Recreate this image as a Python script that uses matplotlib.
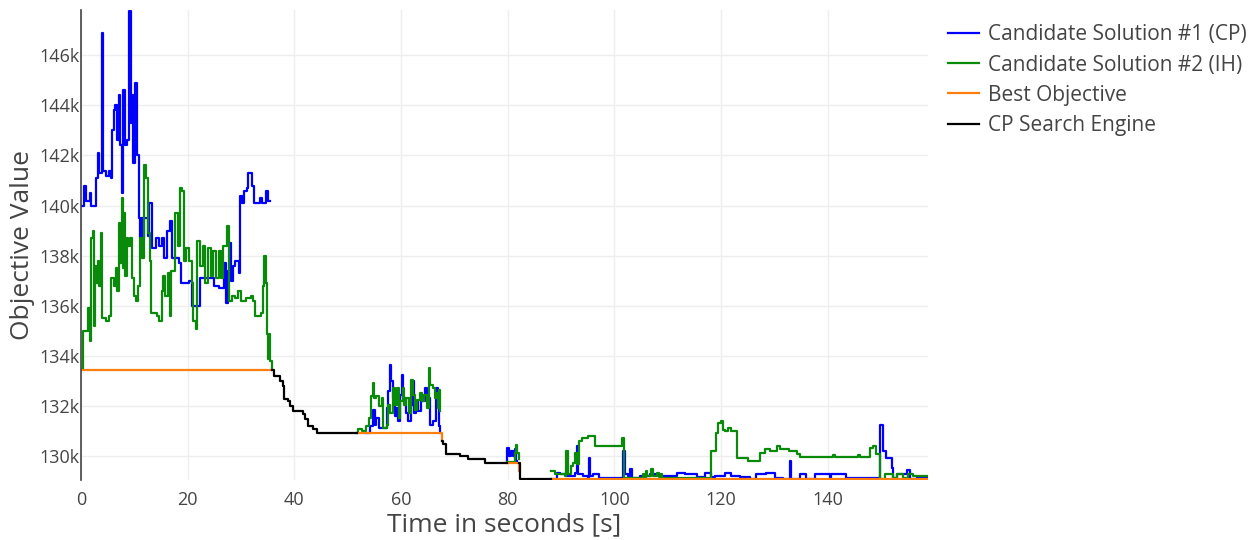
import numpy as np
import matplotlib
matplotlib.use("Agg")
import matplotlib.pyplot as plt
from matplotlib.ticker import FuncFormatter

plt.rcParams['font.family'] = ['Open Sans', 'DejaVu Sans']

# objective values in thousands, time in seconds; each list is (t, value) step points
cp_seg1 = [(0.0, 140.0), (0.5, 140.8), (0.9, 140.2), (1.6, 140.5), (1.9, 140.0), (2.9, 141.1),
           (3.1, 142.1), (3.3, 141.3), (3.9, 146.9), (4.1, 141.4), (4.6, 141.2), (5.2, 141.4),
           (5.6, 141.1), (5.9, 143.0), (6.1, 143.8), (6.4, 144.0), (6.8, 142.6), (7.1, 144.4),
           (7.4, 142.4), (7.7, 140.5), (7.9, 144.6), (8.2, 142.4), (8.6, 142.6), (9.0, 147.75),
           (9.3, 143.3), (9.6, 144.4), (9.8, 141.7), (10.2, 144.9), (10.5, 142.0), (10.8, 139.5),
           (11.0, 138.7), (11.3, 139.5), (11.6, 138.7), (11.9, 139.5), (12.5, 138.8), (12.8, 140.1),
           (13.4, 138.3), (14.0, 138.7), (14.6, 138.4), (15.2, 138.7), (15.5, 137.9), (16.1, 139.0),
           (16.7, 139.4), (17.0, 137.9), (18.3, 137.7), (18.7, 136.9), (20.2, 137.0), (20.8, 136.0),
           (22.4, 137.1), (24.9, 136.8), (25.8, 136.7), (26.8, 137.7), (27.2, 136.1), (27.5, 137.4),
           (27.9, 138.5), (28.1, 137.0), (28.5, 137.6), (28.9, 137.8), (29.6, 137.3), (29.8, 140.4),
           (30.2, 140.1), (30.6, 140.6), (31.1, 140.7), (31.4, 141.3), (32.0, 140.8), (32.5, 140.1),
           (33.5, 140.3), (33.9, 140.1), (34.7, 140.6), (35.0, 140.2), (35.4, 140.2)]
cp_seg2 = [(53.2, 130.95), (54.2, 131.2), (54.7, 131.87), (55.1, 131.27), (55.4, 131.53),
           (55.9, 131.14), (56.7, 131.14), (57.3, 131.93), (57.6, 132.59), (57.9, 133.65),
           (58.2, 133.0), (58.5, 132.33), (58.9, 131.6), (59.2, 131.93), (59.5, 131.4),
           (59.9, 132.46), (60.2, 133.25), (60.4, 132.33), (60.9, 131.73), (61.4, 131.4),
           (61.8, 132.06), (62.2, 133.0), (62.4, 131.73), (62.8, 132.2), (63.2, 131.8),
           (63.7, 132.26), (64.0, 132.2), (64.5, 132.72), (64.9, 132.33), (65.4, 131.27),
           (66.0, 131.4), (66.5, 132.72), (66.9, 132.33), (67.2, 131.2), (67.4, 130.95)]
cp_seg3 = [(79.8, 129.81), (79.9, 130.34), (80.3, 130.0), (80.7, 130.2), (81.0, 130.01),
           (81.3, 130.28), (81.6, 129.81), (81.8, 129.81)]
cp_seg4 = [(88.2, 129.1), (89.2, 129.35), (89.8, 129.29), (91.0, 129.22), (92.6, 129.35),
           (92.9, 130.41), (93.1, 129.29), (94.2, 129.22), (95.1, 129.15), (95.3, 129.95),
           (95.5, 129.22), (96.0, 129.29), (97.2, 129.15), (101.4, 129.1), (101.7, 130.21),
           (102.0, 129.29), (102.6, 129.22), (103.0, 129.48), (103.3, 129.15), (104.8, 129.22),
           (106.7, 129.29), (108.5, 129.22), (111.7, 129.35), (113.2, 129.28), (115.4, 129.16),
           (117.0, 129.33), (118.2, 129.16), (118.8, 129.22), (120.7, 129.32), (121.9, 129.22),
           (123.5, 129.16), (125.4, 129.1), (126.6, 129.3), (128.5, 129.35), (130.1, 129.15),
           (131.6, 129.11), (132.9, 129.8), (133.2, 129.11), (134.8, 129.28), (136.0, 129.11),
           (137.6, 129.28), (140.4, 129.11), (140.7, 129.28), (142.6, 129.3), (143.5, 129.15),
           (149.8, 131.27), (150.3, 130.21), (151.0, 129.95), (152.0, 129.55), (152.3, 129.15),
           (152.9, 129.28), (154.9, 129.45), (155.5, 129.11), (156.8, 129.18), (158.8, 129.18)]

ih_seg1 = [(0.0, 133.5), (0.3, 135.0), (1.3, 135.9), (1.6, 134.6), (1.9, 138.7), (2.2, 139.0),
           (2.4, 135.2), (2.7, 137.6), (2.9, 136.9), (3.2, 137.8), (3.4, 136.8), (3.7, 138.9),
           (3.9, 135.5), (4.7, 135.4), (5.3, 135.6), (5.7, 137.1), (6.2, 136.8), (6.5, 137.5),
           (6.8, 136.6), (7.1, 139.3), (7.3, 137.7), (7.6, 140.3), (7.8, 137.5), (8.1, 139.7),
           (8.3, 137.2), (8.6, 138.7), (8.8, 138.4), (9.2, 138.7), (9.6, 137.1), (9.9, 136.4),
           (10.3, 136.2), (10.7, 136.8), (11.0, 138.7), (11.4, 137.9), (11.8, 141.6), (12.2, 141.1),
           (12.6, 138.9), (12.9, 137.8), (13.2, 135.7), (14.2, 135.6), (14.7, 135.4), (15.1, 136.6),
           (15.4, 137.2), (15.7, 136.4), (16.3, 137.3), (16.6, 135.6), (16.9, 137.4), (17.7, 139.7),
           (18.2, 138.4), (18.5, 140.7), (19.0, 140.6), (19.3, 137.8), (19.7, 138.3), (20.3, 137.8),
           (20.8, 136.9), (21.0, 135.4), (21.5, 135.1), (21.8, 138.6), (22.3, 137.6), (22.8, 138.4),
           (23.3, 136.9), (23.9, 138.3), (24.4, 137.2), (24.8, 138.2), (25.3, 137.1), (25.9, 138.2),
           (26.2, 137.1), (26.7, 138.4), (27.3, 139.2), (27.7, 136.2), (28.3, 136.4), (28.9, 136.3),
           (29.4, 136.6), (30.0, 136.2), (30.9, 136.3), (31.9, 136.4), (32.3, 136.2), (32.7, 135.6),
           (33.7, 135.7), (34.1, 136.8), (34.3, 138.0), (34.6, 136.9), (34.8, 134.9), (35.1, 133.9),
           (35.3, 134.9), (35.5, 133.8), (35.8, 133.5)]
ih_seg2 = [(51.6, 130.95), (51.9, 131.11), (52.6, 131.0), (53.5, 131.2), (54.0, 131.52),
           (54.3, 132.39), (54.7, 132.92), (54.9, 132.33), (55.4, 132.39), (55.9, 132.0),
           (56.4, 132.33), (56.7, 131.14), (57.3, 131.27), (57.6, 132.06), (58.0, 131.73),
           (58.5, 132.72), (58.9, 132.06), (59.2, 132.72), (59.6, 131.55), (59.9, 132.2),
           (60.3, 132.72), (60.6, 132.06), (61.0, 132.33), (61.5, 131.73), (61.9, 133.06),
           (62.2, 132.46), (62.6, 131.87), (63.0, 132.26), (63.5, 132.53), (63.9, 132.2),
           (64.3, 132.46), (64.8, 131.93), (65.2, 133.52), (65.5, 132.86), (66.0, 132.72),
           (66.4, 132.33), (66.7, 132.53), (66.9, 131.93), (67.2, 132.66), (67.4, 131.8)]
ih_seg3 = [(79.8, 129.78), (81.3, 130.14), (81.6, 130.47), (81.8, 130.14), (82.1, 129.88),
           (82.2, 129.88)]
ih_seg4 = [(88.2, 129.42), (88.9, 129.29), (90.7, 129.22), (90.9, 130.21), (91.3, 129.29),
           (91.9, 129.62), (92.3, 129.75), (92.6, 130.15), (92.9, 129.68), (93.4, 130.61),
           (93.9, 130.74), (95.1, 130.83), (96.4, 130.41), (101.5, 130.74), (101.8, 129.15),
           (105.3, 129.28), (105.6, 129.15), (105.9, 129.42), (106.2, 129.2), (106.9, 129.48),
           (107.3, 129.2), (108.0, 129.35), (108.4, 129.16), (108.7, 129.28), (109.0, 129.15),
           (118.2, 130.21), (119.0, 130.94), (119.4, 131.34), (119.9, 131.4), (120.3, 131.07),
           (120.7, 131.0), (121.3, 131.14), (121.9, 131.0), (123.0, 129.95), (125.1, 129.81),
           (127.3, 130.15), (128.2, 130.28), (129.2, 130.21), (130.4, 130.41), (131.0, 130.28),
           (132.8, 130.21), (134.2, 130.08), (134.8, 129.99), (141.0, 130.06), (141.3, 129.99),
           (145.7, 130.04), (146.0, 129.99), (147.9, 130.34), (148.5, 130.43), (149.0, 130.08),
           (149.8, 129.1), (150.7, 129.28), (152.3, 129.15), (152.9, 129.28), (154.2, 129.15),
           (155.1, 129.28), (156.0, 129.22), (158.8, 129.22)]

best_seg1 = [(0.0, 133.45), (35.9, 133.45)]
best_seg2 = [(51.7, 130.95), (67.6, 130.95), (67.6, 130.6)]
best_seg3 = [(79.8, 129.75), (82.2, 129.75), (82.2, 129.4)]
best_seg4 = [(88.2, 129.1), (158.8, 129.1)]

engine_seg1 = [(35.9, 133.45), (36.1, 133.2), (37.3, 133.0), (37.9, 132.8), (38.1, 132.3),
               (38.9, 132.2), (39.2, 132.0), (39.8, 131.8), (41.7, 131.7), (42.0, 131.5),
               (42.6, 131.2), (43.5, 131.1), (44.2, 130.95), (51.7, 130.95)]
engine_seg2 = [(67.6, 130.6), (67.8, 130.5), (68.5, 130.08), (71.0, 130.01), (72.6, 129.88),
               (75.7, 129.72), (79.8, 129.72)]
engine_seg3 = [(82.2, 129.75), (82.3, 129.1), (88.2, 129.1)]

series = [
    ('Candidate Solution #1 (CP)', '#0000ff', [cp_seg1, cp_seg2, cp_seg3, cp_seg4]),
    ('Candidate Solution #2 (IH)', '#0a8a0a', [ih_seg1, ih_seg2, ih_seg3, ih_seg4]),
    ('Best Objective', '#ff7f0e', [best_seg1, best_seg2, best_seg3, best_seg4]),
    ('CP Search Engine', '#000000', [engine_seg1, engine_seg2, engine_seg3]),
]

fig = plt.figure(figsize=(12.58, 5.40), dpi=100)
ax = fig.add_axes([81 / 1258, 60 / 540, 847 / 1258, 470 / 540])

for name, color, segs in series:
    for i, seg in enumerate(segs):
        t, v = zip(*seg)
        ax.plot(t, v, drawstyle='steps-post', color=color, lw=1.6,
                label=name if i == 0 else None)

ax.set_xlim(0, 158.8)
ax.set_ylim(129.06, 147.8)
ax.set_xticks(np.arange(0, 160, 20))
ax.set_yticks(np.arange(130, 147, 2))
ax.yaxis.set_major_formatter(FuncFormatter(lambda v, p: f'{v:g}k'))
ax.grid(True, color='#eeeeee', lw=1)
ax.set_axisbelow(True)
for s in ['top', 'right', 'bottom']:
    ax.spines[s].set_visible(False)
ax.spines['left'].set_color('#444444')
ax.spines['left'].set_linewidth(1.2)
ax.tick_params(length=0, labelsize=13, colors='#444444')
ax.tick_params(axis='x', pad=8)
ax.tick_params(axis='y', pad=1)

ax.set_xlabel('Time in seconds [s]', fontsize=19, color='#444444', labelpad=2)
ax.set_ylabel('Objective Value', fontsize=19, color='#444444', labelpad=3)

fig.legend(loc='upper left', bbox_to_anchor=(940 / 1258, 1 - 16 / 540), frameon=False,
           fontsize=15, handlelength=1.45, handletextpad=0.45, labelspacing=0.44,
           labelcolor='#444444', borderaxespad=0)

fig.savefig('out.png', dpi=100)
